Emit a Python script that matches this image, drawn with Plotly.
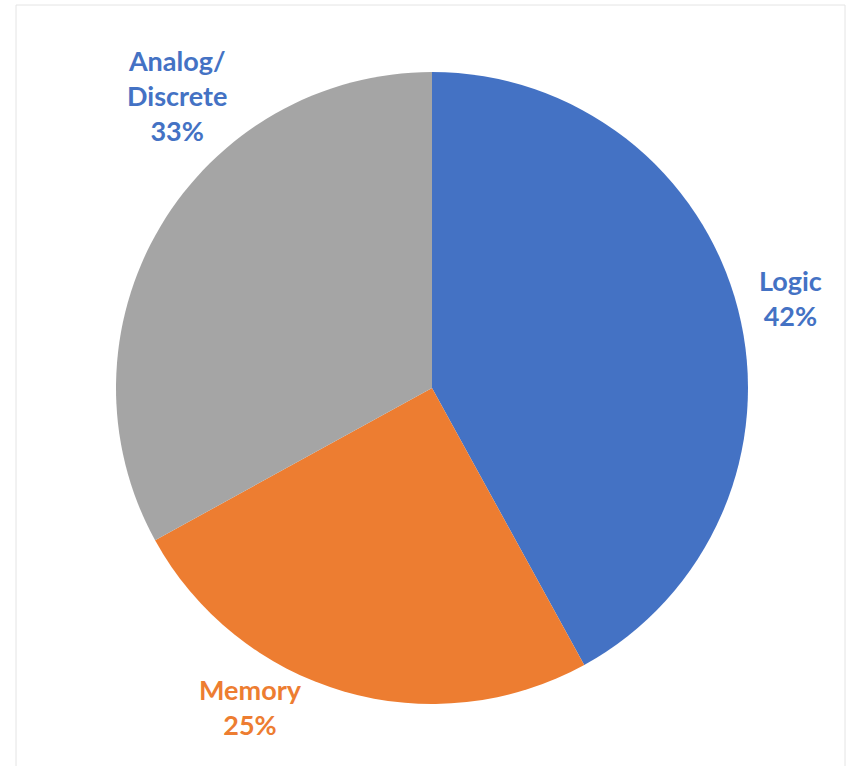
import plotly.graph_objects as go

categories = ["Logic", "Memory", "Analog/<br>Discrete"]
values = [42, 25, 33]
slice_colors = ["#4472C4", "#ED7D31", "#A5A5A5"]
label_colors = ["#4472C4", "#ED7D31", "#4472C4"]
label_text = ["Logic<br>42%", "Memory<br>25%", "Analog/<br>Discrete<br>33%"]

W, H = 848, 766
cx, cy, r = 432, 388, 316

fig = go.Figure()
fig.add_trace(go.Pie(
    labels=categories,
    values=values,
    sort=False,
    direction="clockwise",
    rotation=0,
    marker=dict(colors=slice_colors, line=dict(color="white", width=0)),
    textinfo="none",
    hoverinfo="label+percent",
    showlegend=False,
    domain=dict(x=[(cx - r) / W, (cx + r) / W], y=[1 - (cy + r) / H, 1 - (cy - r) / H]),
))

label_pos = [(790, 298), (250, 707), (177, 96)]
for txt, col, (lx, ly) in zip(label_text, label_colors, label_pos):
    fig.add_annotation(
        x=lx / W, y=1 - ly / H, xref="paper", yref="paper",
        text=f"<b>{txt}</b>", showarrow=False,
        font=dict(family="Lato", size=27, color=col),
        xanchor="center", yanchor="middle", align="center",
    )

fig.add_shape(type="rect", xref="paper", yref="paper",
              x0=16 / W, x1=845 / W, y0=-0.01, y1=1 - 5 / H,
              line=dict(color="#e4e4e4", width=1))

fig.update_layout(
    width=W, height=H,
    margin=dict(l=0, r=0, t=0, b=0),
    paper_bgcolor="white", plot_bgcolor="white",
)
fig.write_html("out.html")
